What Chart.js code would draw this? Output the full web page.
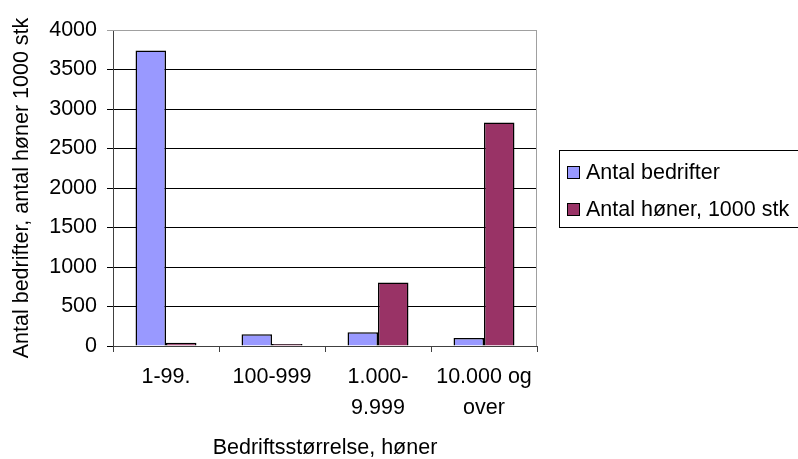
<!DOCTYPE html>
<html>
<head>
<meta charset="utf-8">
<script src="https://cdn.jsdelivr.net/npm/chart.js@4.4.0/dist/chart.umd.min.js"></script>
<style>
html, body { margin: 0; padding: 0; background: #fff; }
</style>
</head>
<body>
<canvas id="chart" width="798" height="459"></canvas>
<script>
const categories = [['1-99.'], ['100-999'], ['1.000-', '9.999'], ['10.000 og', 'over']];
const antalBedrifter = [3740, 150, 175, 100];
const antalHoner = [40, 25, 805, 2830];
const yMin = 0, yMax = 4000, yStep = 500;

const FONT = "'Liberation Sans', Arial, sans-serif";
const SIZE = 21.5;

// legend drawn as a boxed list to the right, like the Excel original
const legendBox = {
    id: 'legendBox',
    afterDraw(chart) {
        const ctx = chart.ctx;
        ctx.save();
        ctx.strokeStyle = '#000';
        ctx.lineWidth = 1;
        ctx.strokeRect(559.5, 150.5, 260, 77);
        ctx.font = SIZE + 'px ' + FONT;
        ctx.textBaseline = 'middle';
        chart.data.datasets.forEach((ds, i) => {
            const y = 172 + i * 37;
            ctx.fillStyle = ds.backgroundColor;
            ctx.fillRect(567, y - 6, 13, 13);
            ctx.strokeStyle = '#000';
            ctx.strokeRect(567.5, y - 5.5, 12, 12);
            ctx.fillStyle = '#000';
            ctx.fillText(ds.label, 586, y + 1);
        });
        // grey frame on top and right of the plot area
        const a = chart.chartArea;
        ctx.strokeStyle = '#a0a0a0';
        ctx.beginPath();
        ctx.moveTo(a.left, a.top + 0.5);
        ctx.lineTo(a.right - 0.5, a.top + 0.5);
        ctx.lineTo(a.right - 0.5, a.bottom);
        ctx.stroke();
        ctx.restore();
    }
};

new Chart(document.getElementById('chart').getContext('2d'), {
    type: 'bar',
    data: {
        labels: categories,
        datasets: [{
            label: 'Antal bedrifter',
            data: antalBedrifter,
            backgroundColor: '#9999ff',
            borderColor: '#000',
            borderWidth: 1.5
        }, {
            label: 'Antal høner, 1000 stk',
            data: antalHoner,
            backgroundColor: '#993366',
            borderColor: '#000',
            borderWidth: 1.5
        }]
    },
    options: {
        responsive: false,
        animation: false,
        layout: { padding: { left: 0, top: 30, right: 261, bottom: 0 } },
        plugins: {
            legend: { display: false },
            tooltip: { enabled: false }
        },
        datasets: {
            bar: { categoryPercentage: 0.575, barPercentage: 1 }
        },
        scales: {
            x: {
                grid: { offset: true, drawOnChartArea: false, tickLength: 6, color: '#404040' },
                border: { color: '#404040' },
                ticks: { color: '#000', font: { family: FONT, size: SIZE, lineHeight: 1.42 }, padding: 10, maxRotation: 0 },
                title: { display: true, text: 'Bedriftsstørrelse, høner', color: '#000', font: { family: FONT, size: SIZE }, padding: { top: 0, bottom: -2 } },
                afterFit(scale) { scale.height = 113; }
            },
            y: {
                min: yMin,
                max: yMax,
                ticks: { stepSize: yStep, color: '#000', font: { family: FONT, size: SIZE }, padding: 10, callback: v => String(v) },
                grid: {
                    tickLength: 6,
                    color: ctx => ctx.tick && ctx.tick.value === yMax ? '#a0a0a0' : '#000'
                },
                border: { color: '#404040' },
                title: { display: true, text: 'Antal bedrifter, antal høner 1000 stk', color: '#000', font: { family: FONT, size: SIZE }, padding: { top: 9, bottom: 0 } },
                afterFit(scale) { scale.width = 113; }
            }
        }
    },
    plugins: [legendBox]
});
</script>
</body>
</html>
